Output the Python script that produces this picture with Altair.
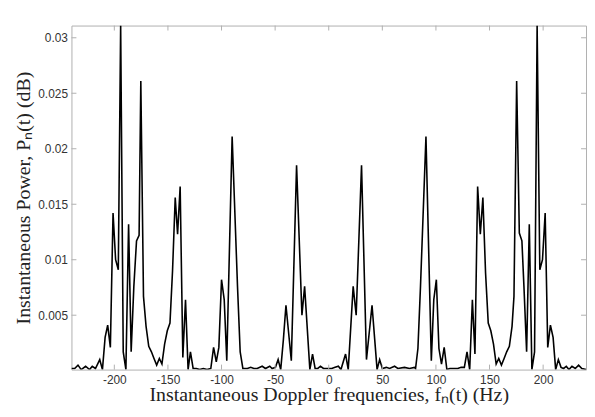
import altair as alt
import pandas as pd

# Instantaneous Doppler frequency (Hz)
freq = [
    -240.0, -237.0, -233.9, -230.9, -226.8, -223.1, -220.6, -217.6, -213.6, -211.1,
    -208.6, -206.2, -203.7, -201.2, -198.8, -196.3, -194.1, -191.7, -189.2, -186.7,
    -184.3, -181.8, -179.3, -176.9, -175.3, -172.8, -170.4, -167.9, -165.4, -163.0,
    -160.5, -158.0, -155.6, -153.1, -150.6, -148.1, -145.7, -143.2, -141.0, -138.6,
    -136.1, -133.6, -131.2, -129.0, -126.5, -123.5, -120.4, -117.0, -113.5, -110.0,
    -107.4, -104.9, -102.5, -100.0, -97.5, -95.1, -90.1, -85.1, -82.6, -80.1,
    -75.9, -72.8, -69.8, -66.7, -62.1, -59.0, -55.0, -52.8, -49.7, -47.2,
    -44.8, -42.3, -39.9, -34.9, -30.0, -25.0, -22.5, -17.6, -15.1, -12.7,
    -10.2, -7.7, -4.9, -2.0, 1.0, 2.8, 5.9, 9.0, 11.4, 15.7,
    18.2, 22.8, 25.6, 30.6, 35.2, 40.4, 42.9, 45.1, 47.5, 50.0,
    53.7, 56.8, 61.4, 64.5, 70.7, 75.3, 79.9, 81.0, 83.2, 85.6,
    90.7, 95.7, 98.0, 100.4, 102.8, 105.2, 107.7, 110.2, 113.0, 116.0,
    120.4, 123.5, 126.5, 129.0, 131.5, 134.0, 136.4, 138.9, 141.4, 143.8,
    146.3, 148.8, 151.2, 153.7, 156.2, 158.6, 161.1, 163.6, 166.0, 168.5,
    171.0, 172.8, 175.3, 177.8, 180.2, 182.1, 184.6, 187.1, 189.5, 192.0,
    194.4, 196.9, 199.4, 201.9, 204.3, 206.8, 209.3, 211.7, 214.2, 216.7,
    219.1, 221.6, 224.1, 226.9, 230.0, 233.1, 236.1, 240.0,
]

# Instantaneous power P_n(t)
power = [
    0.0002, 0.0002, 0.0005, 0.0001, 0.0004, 0.0001, 0.0004, 0.0002, 0.0010, 0.0001,
    0.0030, 0.0041, 0.0021, 0.0142, 0.0100, 0.0091, 0.0311, 0.0017, 0.0001, 0.0132,
    0.0017, 0.0076, 0.0117, 0.0122, 0.0261, 0.0067, 0.0040, 0.0022, 0.0017, 0.0011,
    0.0005, 0.0011, 0.0006, 0.0024, 0.0036, 0.0043, 0.0090, 0.0156, 0.0123, 0.0166,
    0.0012, 0.0064, 0.0001, 0.0017, 0.0002, 0.0002, 0.0001, 0.0002, 0.0001, 0.0002,
    0.0021, 0.0008, 0.0021, 0.0082, 0.0064, 0.0009, 0.0211, 0.0076, 0.0017, 0.0002,
    0.0002, 0.0003, 0.0002, 0.0002, 0.0004, 0.0002, 0.0004, 0.0002, 0.0003, 0.0010,
    0.0001, 0.0028, 0.0059, 0.0009, 0.0185, 0.0050, 0.0076, 0.0001, 0.0015, 0.0002,
    0.0002, 0.0004, 0.0002, 0.0002, 0.0002, 0.0002, 0.0003, 0.0004, 0.0001, 0.0015,
    0.0001, 0.0076, 0.0050, 0.0185, 0.0010, 0.0059, 0.0028, 0.0001, 0.0010, 0.0002,
    0.0003, 0.0002, 0.0004, 0.0002, 0.0003, 0.0002, 0.0003, 0.0002, 0.0020, 0.0076,
    0.0211, 0.0009, 0.0064, 0.0082, 0.0020, 0.0006, 0.0021, 0.0001, 0.0002, 0.0002,
    0.0002, 0.0003, 0.0003, 0.0017, 0.0001, 0.0064, 0.0015, 0.0166, 0.0123, 0.0156,
    0.0088, 0.0043, 0.0036, 0.0024, 0.0006, 0.0011, 0.0005, 0.0011, 0.0017, 0.0022,
    0.0040, 0.0067, 0.0261, 0.0124, 0.0117, 0.0076, 0.0017, 0.0132, 0.0001, 0.0017,
    0.0311, 0.0091, 0.0100, 0.0142, 0.0021, 0.0041, 0.0030, 0.0001, 0.0010, 0.0003,
    0.0002, 0.0004, 0.0001, 0.0004, 0.0002, 0.0005, 0.0002, 0.0001,
]

x_ticks = [-200, -150, -100, -50, 0, 50, 100, 150, 200]
y_ticks = [0.005, 0.01, 0.015, 0.02, 0.025, 0.03]

W, H = 519, 347
AXIS_COL = "#b0b0b0"
TICK_LEN = 5

df = pd.DataFrame({"f": freq, "p": power})
xs = alt.Scale(domain=[-240, 240], nice=False, zero=False)
ys = alt.Scale(domain=[0.0001, 0.0311], nice=False, zero=False)

x_axis = alt.Axis(
    values=x_ticks,
    title="Instantaneous Doppler frequencies, fₙ(t) (Hz)",
    domain=False, ticks=False, grid=False,
    labelExpr="'' + datum.value",
    labelFont="Liberation Sans", labelFontSize=12, labelColor="#333333",
    labelPadding=5, labelFlush=False,
    titleFont="Liberation Serif", titleFontSize=20, titleFontWeight="normal",
    titleColor="#222222", titleY=31, titleBaseline="alphabetic",
)
y_axis = alt.Axis(
    values=y_ticks,
    title="Instantaneous Power, Pₙ(t) (dB)",
    domain=False, ticks=False, grid=False,
    labelExpr="'' + datum.value",
    labelFont="Liberation Sans", labelFontSize=12, labelColor="#333333",
    labelPadding=4, labelFlush=False,
    titleFont="Liberation Serif", titleFontSize=20, titleFontWeight="normal",
    titleColor="#222222", titleX=-42, titleBaseline="alphabetic",
)

line = alt.Chart(df).mark_line(color="black", strokeWidth=1.6, clip=True).encode(
    x=alt.X("f:Q", scale=xs, axis=x_axis),
    y=alt.Y("p:Q", scale=ys, axis=y_axis),
)

xt = pd.DataFrame({"f": x_ticks})
yt = pd.DataFrame({"p": y_ticks})

bottom_ticks = alt.Chart(xt).mark_rule(color=AXIS_COL, strokeWidth=1).encode(
    x=alt.X("f:Q", scale=xs, axis=x_axis), y=alt.value(H), y2=alt.value(H - TICK_LEN)
)
top_ticks = alt.Chart(xt).mark_rule(color=AXIS_COL, strokeWidth=1).encode(
    x=alt.X("f:Q", scale=xs, axis=x_axis), y=alt.value(0), y2=alt.value(TICK_LEN)
)
left_ticks = alt.Chart(yt).mark_rule(color=AXIS_COL, strokeWidth=1).encode(
    y=alt.Y("p:Q", scale=ys, axis=y_axis), x=alt.value(0), x2=alt.value(TICK_LEN)
)
right_ticks = alt.Chart(yt).mark_rule(color=AXIS_COL, strokeWidth=1).encode(
    y=alt.Y("p:Q", scale=ys, axis=y_axis), x=alt.value(W), x2=alt.value(W - TICK_LEN)
)

chart = (
    alt.layer(line, bottom_ticks, top_ticks, left_ticks, right_ticks)
    .properties(
        width=W,
        height=H,
        padding={"left": 64, "top": 16, "right": 1, "bottom": 34},
        autosize=alt.AutoSizeParams(type="none"),
        background="white",
    )
    .configure_view(stroke=AXIS_COL, strokeWidth=1)
)

chart.save("out.html", embed_options={"renderer": "svg", "actions": False})
